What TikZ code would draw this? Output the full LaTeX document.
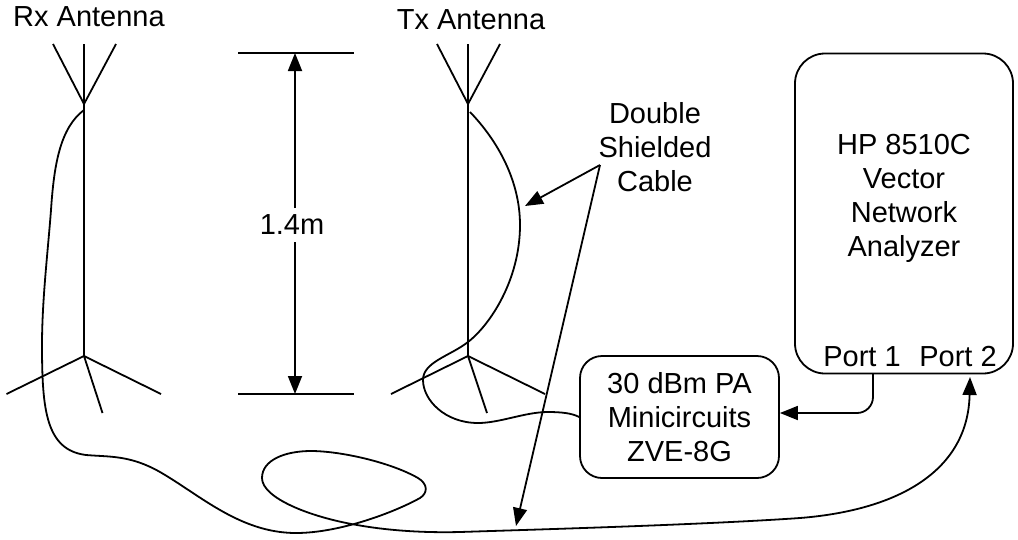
\documentclass[tikz,border=0pt]{standalone}
\usepackage{fontspec}
\setmainfont{Liberation Sans}
\usetikzlibrary{arrows.meta, positioning, calc}

\begin{document}
\begin{tikzpicture}[
  x=1pt, y=-1pt,
  lbl/.style={align=center, font=\fontsize{29}{34}\selectfont, inner sep=1pt},
  box/.style={rectangle, draw, line width=1.8pt, rounded corners=22pt, align=center,
              font=\fontsize{29}{34}\selectfont, inner sep=0pt},
  ant/.style={line width=1.8pt},
  cable/.style={line width=1.8pt},
  arr/.style={-{Triangle[length=18pt, width=14pt]}, line width=1.8pt}
]
  \useasboundingbox (0,0) rectangle (1018,539);

  % Rx antenna
  \node[lbl] (rxl) at (89,17) {Rx Antenna};
  \coordinate (rxa) at (84,104);
  \coordinate (rxb) at (84,356);
  \draw[ant] (53,44) -- (rxa) -- (116,44);
  \draw[ant] (84,44) -- (rxb);
  \draw[ant] (6.5,394) -- (rxb) -- (161,394);
  \draw[ant] (rxb) -- (102.5,413);

  % Tx antenna
  \node[lbl] (txl) at (471,20) {Tx Antenna};
  \coordinate (txa) at (468,104);
  \coordinate (txb) at (468,356);
  \draw[ant] (437,44) -- (txa) -- (500,44);
  \draw[ant] (468,44) -- (txb);
  \draw[ant] (391,394) -- (txb) -- (545,394);
  \draw[ant] (txb) -- (487,413);

  % 1.4m
  \coordinate (dimt) at (295,53);
  \coordinate (dimb) at (295,394);
  \node[lbl, inner sep=5pt] (len) at (292,225) {1.4m};
  \draw[ant] (238,53) -- (354,53);
  \draw[ant] (238,394) -- (354,394);
  \draw[arr] (295,208) -- (dimt);
  \draw[arr] (295,242) -- (dimb);

  % boxes
  \node[box, minimum width=199pt, minimum height=122pt] (pa) at (679.5,417)
    {30 dBm PA\\Minicircuits\\ZVE-8G};
  \node[box, rounded corners=30pt, minimum width=218pt, minimum height=320pt] (hp) at (904,213.5) {};
  \node[lbl] (hpl) at (904,198) {HP 8510C\\Vector\\Network\\Analyzer};
  \node[lbl] (p1) at (862,357) {Port 1};
  \node[lbl] (p2) at (958,357) {Port 2};

  % label and pointers
  \node[lbl] (dsc) at (655,147) {Double\\Shielded\\Cable};
  \coordinate (ptr) at (600,165);
  \coordinate (ptra) at (525,206);
  \coordinate (ptrb) at (516,526);
  \draw[arr] (ptr) -- (ptra);
  \draw[arr] (ptr) -- (ptrb);

  % cables
  \coordinate (rxf) at (84,110);
  \coordinate (txf) at (470,112);
  \coordinate (p2in) at (970,377);
  \draw[arr] (rxf) .. controls (60,128) and (54,165) .. (51,210)
    .. controls (48,250) and (42,300) .. (42,345)
    .. controls (42,410) and (46,450) .. (86,455)
    .. controls (110,457) and (130,455) .. (160,472)
    .. controls (200,495) and (240,533) .. (296,533)
    .. controls (340,533) and (395,512) .. (420,498)
    .. controls (428,493) and (428,484) .. (418,478)
    .. controls (390,462) and (340,451) .. (311,451)
    .. controls (285,451) and (262,460) .. (262,478)
    .. controls (262,498) and (310,517) .. (357,525)
    .. controls (385,530) and (420,533) .. (460,532)
    .. controls (520,530) and (700,525) .. (800,518)
    .. controls (900,510) and (968,470) .. (p2in);
  \draw[cable] (txf) .. controls (497,140) and (520,180) .. (520,225)
    .. controls (520,280) and (490,325) .. (468,342)
    .. controls (450,356) and (423,362) .. (423,380)
    .. controls (423,400) and (445,423) .. (478,423)
    .. controls (500,423) and (525,412) .. (548,412)
    .. controls (560,412) and (572,413) .. (pa.west);
  \draw[arr, rounded corners=16pt] (873,374) |- ([yshift=4pt]pa.east);
\end{tikzpicture}
\end{document}
